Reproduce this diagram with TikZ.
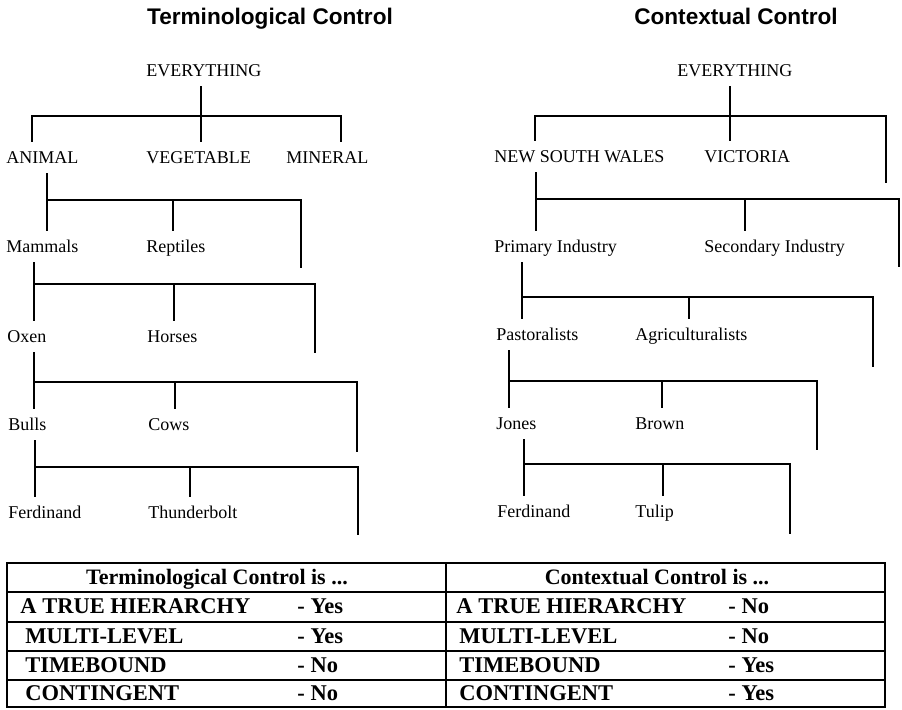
\documentclass[tikz,border=0pt]{standalone}
\usepackage{fontspec}
\setmainfont{Liberation Serif}
\newfontfamily\headfont{Liberation Sans}
\usepackage{tikz}

\begin{document}
\begin{tikzpicture}[x=0.5pt,y=-0.5pt,
  term/.style={font=\fontsize{9}{10}\selectfont, anchor=base west,
    inner xsep=0pt, inner ysep=4.5pt, text height=6.3pt, text depth=0pt},
  bigtitle/.style={font=\headfont\bfseries\fontsize{11.3}{13}\selectfont, anchor=base},
  cell/.style={font=\bfseries\fontsize{11.25}{13}\selectfont, anchor=base west, inner sep=0pt},
  cellhead/.style={font=\bfseries\fontsize{11}{13}\selectfont, anchor=base, inner sep=0pt},
  treeline/.style={line width=0.9pt},
  tablines/.style={line width=1.2pt}]
\useasboundingbox (0,0) rectangle (902,710);
%
\node[bigtitle] (ttitle) at (270,25) {Terminological Control};
\node[bigtitle] (ctitle) at (736,25) {Contextual Control};
%
\node[term] (every1) at (146,77) {EVERYTHING};
\node[term] (animal) at (6,164) {ANIMAL};
\node[term] (vegetable) at (146,164) {VEGETABLE};
\node[term] (mineral) at (286,164) {MINERAL};
\node[term] (mammals) at (6,253) {Mammals};
\node[term] (reptiles) at (146,253) {Reptiles};
\node[term] (oxen) at (7,343) {Oxen};
\node[term] (horses) at (147,343) {Horses};
\node[term] (bulls) at (8,431) {Bulls};
\node[term] (cows) at (148,431) {Cows};
\node[term] (ferd1) at (8,519) {Ferdinand};
\node[term] (thunder) at (148,519) {Thunderbolt};
%
\node[term] (every2) at (677,77) {EVERYTHING};
\node[term] (nsw) at (494,163) {NEW SOUTH WALES};
\node[term] (victoria) at (704,163) {VICTORIA};
\node[term] (primary) at (494,253) {Primary Industry};
\node[term] (secondary) at (704,253) {Secondary Industry};
\node[term] (pastoral) at (496,341) {Pastoralists};
\node[term] (agri) at (635,341) {Agriculturalists};
\node[term] (jones) at (496,430) {Jones};
\node[term] (brown) at (635,430) {Brown};
\node[term] (ferd2) at (497,518) {Ferdinand};
\node[term] (tulip) at (635,518) {Tulip};
%
\coordinate (t0a) at (32,116);
\coordinate (t0b) at (201,116);
\coordinate (t0c) at (341,116);
\draw[treeline] (t0b |- every1.south) -- (t0b |- vegetable.north);
\draw[treeline] (t0a |- animal.north) |- (t0c) -- (t0c |- mineral.north);
%
\coordinate (t1a) at (47,200);
\coordinate (t1b) at (173,200);
\coordinate (t1c) at (301,200);
\coordinate (t1end) at (301,268);
\draw[treeline] (t1a |- animal.south) -- (t1a |- mammals.north);
\draw[treeline] (t1a) -- (t1c) -- (t1end);
\draw[treeline] (t1b) -- (t1b |- reptiles.north);
%
\coordinate (t2a) at (34,284);
\coordinate (t2b) at (174,284);
\coordinate (t2c) at (315,284);
\coordinate (t2end) at (315,353);
\draw[treeline] (t2a |- mammals.south) -- (t2a |- oxen.north);
\draw[treeline] (t2a) -- (t2c) -- (t2end);
\draw[treeline] (t2b) -- (t2b |- horses.north);
%
\coordinate (t3a) at (34,382);
\coordinate (t3b) at (175,382);
\coordinate (t3c) at (357,382);
\coordinate (t3end) at (357,452);
\draw[treeline] (t3a |- oxen.south) -- (t3a |- bulls.north);
\draw[treeline] (t3a) -- (t3c) -- (t3end);
\draw[treeline] (t3b) -- (t3b |- cows.north);
%
\coordinate (t4a) at (35,467);
\coordinate (t4b) at (190,467);
\coordinate (t4c) at (358,467);
\coordinate (t4end) at (358,535);
\draw[treeline] (t4a |- bulls.south) -- (t4a |- ferd1.north);
\draw[treeline] (t4a) -- (t4c) -- (t4end);
\draw[treeline] (t4b) -- (t4b |- thunder.north);
%
\coordinate (c0a) at (535,116);
\coordinate (c0b) at (730,116);
\coordinate (c0c) at (886,116);
\coordinate (c0end) at (886,183);
\draw[treeline] (c0b |- every2.south) -- (c0b |- victoria.north);
\draw[treeline] (c0a |- nsw.north) |- (c0c) -- (c0end);
%
\coordinate (c1a) at (536,199);
\coordinate (c1b) at (745,199);
\coordinate (c1c) at (899,199);
\coordinate (c1end) at (899,267);
\draw[treeline] (c1a |- nsw.south) -- (c1a |- primary.north);
\draw[treeline] (c1a) -- (c1c) -- (c1end);
\draw[treeline] (c1b) -- (c1b |- secondary.north);
%
\coordinate (c2a) at (522,297);
\coordinate (c2b) at (689,297);
\coordinate (c2c) at (873,297);
\coordinate (c2end) at (873,367);
\draw[treeline] (c2a |- primary.south) -- (c2a |- pastoral.north);
\draw[treeline] (c2a) -- (c2c) -- (c2end);
\draw[treeline] (c2b) -- (c2b |- agri.north);
%
\coordinate (c3a) at (509,381);
\coordinate (c3b) at (662,381);
\coordinate (c3c) at (817,381);
\coordinate (c3end) at (817,450);
\draw[treeline] (c3a |- pastoral.south) -- (c3a |- jones.north);
\draw[treeline] (c3a) -- (c3c) -- (c3end);
\draw[treeline] (c3b) -- (c3b |- brown.north);
%
\coordinate (c4a) at (524,464);
\coordinate (c4b) at (663,464);
\coordinate (c4c) at (790,464);
\coordinate (c4end) at (790,534);
\draw[treeline] (c4a |- jones.south) -- (c4a |- ferd2.north);
\draw[treeline] (c4a) -- (c4c) -- (c4end);
\draw[treeline] (c4b) -- (c4b |- tulip.north);
%
\draw[tablines] (7,563) rectangle (885,707);
\foreach \y in {592,622,651,680}
  \draw[tablines] (7,\y) -- (885,\y);
\draw[tablines] (446,563) -- (446,707);
%
\node[cellhead] (thead) at (217,585) {Terminological Control is ...};
\node[cell] (tr1) at (20,614) {A TRUE HIERARCHY};
\node[cell] (tv1) at (297,614) {- Yes};
\node[cell] (tr2) at (25,644) {MULTI-LEVEL};
\node[cell] (tv2) at (297,644) {- Yes};
\node[cell] (tr3) at (25,673) {TIMEBOUND};
\node[cell] (tv3) at (297,673) {- No};
\node[cell] (tr4) at (25,701) {CONTINGENT};
\node[cell] (tv4) at (297,701) {- No};
%
\node[cellhead] (chead) at (657,585) {Contextual Control is ...};
\node[cell] (cr1) at (456,614) {A TRUE HIERARCHY};
\node[cell] (cv1) at (728,614) {- No};
\node[cell] (cr2) at (459,644) {MULTI-LEVEL};
\node[cell] (cv2) at (728,644) {- No};
\node[cell] (cr3) at (459,673) {TIMEBOUND};
\node[cell] (cv3) at (728,673) {- Yes};
\node[cell] (cr4) at (459,701) {CONTINGENT};
\node[cell] (cv4) at (728,701) {- Yes};
\end{tikzpicture}
\end{document}
